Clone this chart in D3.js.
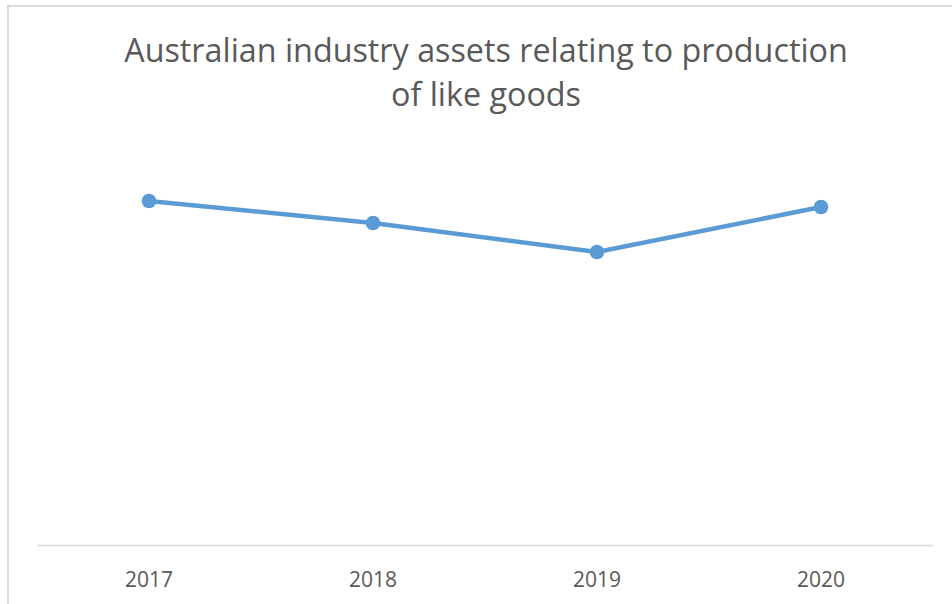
<!DOCTYPE html>
<html>
<head>
<meta charset="utf-8">
<script src="https://cdn.jsdelivr.net/npm/d3@7/dist/d3.min.js"></script>
<style>
  html, body { margin: 0; padding: 0; background: #ffffff; }
  svg { display: block; }
</style>
</head>
<body>
<script>
// Years shown along the category axis
const years = ["2017", "2018", "2019", "2020"];
// Asset index values (value axis hidden, baseline = 0)
const assets = [344, 322, 293, 338];
// Chart title, split over two lines
const titleLines = ["Australian industry assets relating to production", "of like goods"];

const W = 952, H = 604;
const svg = d3.select("body").append("svg").attr("width", W).attr("height", H);

// Chart area frame (runs off the right and bottom edges)
svg.append("rect")
  .attr("x", 8).attr("y", 6)
  .attr("width", W + 20).attr("height", H + 20)
  .attr("fill", "#ffffff")
  .attr("stroke", "#d9d9d9")
  .attr("stroke-width", 2);

const font = "'Open Sans', Lato, sans-serif";
const textColor = "#595959";

// Title
svg.append("g").selectAll("text")
  .data(titleLines)
  .join("text")
  .attr("x", 486)
  .attr("y", (d, i) => 62 + i * 44)
  .attr("text-anchor", "middle")
  .attr("font-family", font)
  .attr("font-size", 32.3)
  .attr("fill", textColor)
  .text(d => d);

// Scales
const x = d3.scaleBand().domain(years).range([37, 933]);
const y = d3.scaleLinear().domain([0, 400]).range([545, 145]);
const cx = d => x(d) + x.bandwidth() / 2;

// Category axis
const xAxis = svg.append("g")
  .attr("transform", `translate(0,${y(0)})`)
  .call(d3.axisBottom(x).tickSize(0).tickPadding(27));
xAxis.select(".domain").attr("stroke", "#d9d9d9").attr("stroke-width", 1.3);
xAxis.selectAll("text")
  .attr("font-family", font)
  .attr("font-size", 21)
  .attr("fill", textColor);

const pts = years.map((yr, i) => ({ yr, v: assets[i] }));

// Series line
svg.append("path")
  .datum(pts)
  .attr("fill", "none")
  .attr("stroke", "#5b9bd5")
  .attr("stroke-width", 4.5)
  .attr("stroke-linejoin", "round")
  .attr("stroke-linecap", "round")
  .attr("d", d3.line().x(d => cx(d.yr)).y(d => y(d.v)));

// Markers
svg.append("g").selectAll("circle")
  .data(pts)
  .join("circle")
  .attr("cx", d => cx(d.yr))
  .attr("cy", d => y(d.v))
  .attr("r", 7.3)
  .attr("fill", "#5b9bd5");
</script>
</body>
</html>
